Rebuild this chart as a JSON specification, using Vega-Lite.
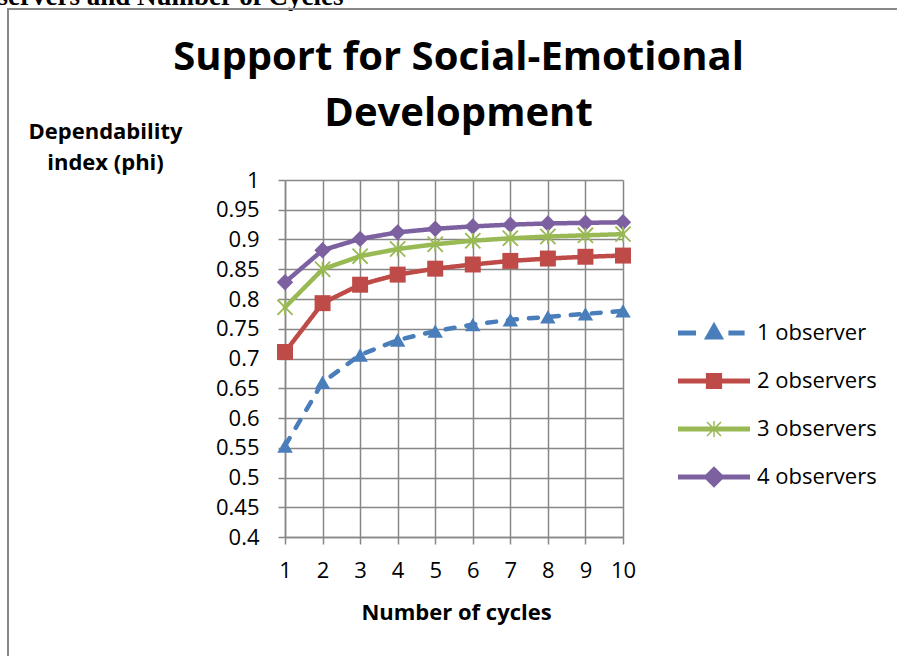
{
  "$schema": "https://vega.github.io/schema/vega-lite/v6.json",
  "autosize": {"type": "none"},
  "width": 338,
  "height": 357,
  "padding": {"left": 285, "top": 180, "right": 274, "bottom": 119},
  "background": "white",
  "config": {
    "view": {"stroke": null},
    "axis": {"labelFont": "Open Sans", "labelFontSize": 22, "labelColor": "black", "labelOverlap": false, "labelFlush": false, "titleFont": "Open Sans", "titleColor": "black", "gridColor": "#878787", "gridWidth": 1.5, "gridOpacity": 1, "domainColor": "#878787", "domainWidth": 1.5, "tickColor": "#878787", "tickWidth": 1.5, "tickSize": 7}
  },
  "data": {"values": [
    {"cycles": 1, "series": "1 observer", "phi": 0.553},
    {"cycles": 2, "series": "1 observer", "phi": 0.660},
    {"cycles": 3, "series": "1 observer", "phi": 0.706},
    {"cycles": 4, "series": "1 observer", "phi": 0.731},
    {"cycles": 5, "series": "1 observer", "phi": 0.746},
    {"cycles": 6, "series": "1 observer", "phi": 0.757},
    {"cycles": 7, "series": "1 observer", "phi": 0.765},
    {"cycles": 8, "series": "1 observer", "phi": 0.770},
    {"cycles": 9, "series": "1 observer", "phi": 0.775},
    {"cycles": 10, "series": "1 observer", "phi": 0.780},
    {"cycles": 1, "series": "2 observers", "phi": 0.711},
    {"cycles": 2, "series": "2 observers", "phi": 0.793},
    {"cycles": 3, "series": "2 observers", "phi": 0.824},
    {"cycles": 4, "series": "2 observers", "phi": 0.841},
    {"cycles": 5, "series": "2 observers", "phi": 0.851},
    {"cycles": 6, "series": "2 observers", "phi": 0.858},
    {"cycles": 7, "series": "2 observers", "phi": 0.864},
    {"cycles": 8, "series": "2 observers", "phi": 0.868},
    {"cycles": 9, "series": "2 observers", "phi": 0.871},
    {"cycles": 10, "series": "2 observers", "phi": 0.873},
    {"cycles": 1, "series": "3 observers", "phi": 0.786},
    {"cycles": 2, "series": "3 observers", "phi": 0.850},
    {"cycles": 3, "series": "3 observers", "phi": 0.872},
    {"cycles": 4, "series": "3 observers", "phi": 0.884},
    {"cycles": 5, "series": "3 observers", "phi": 0.892},
    {"cycles": 6, "series": "3 observers", "phi": 0.898},
    {"cycles": 7, "series": "3 observers", "phi": 0.902},
    {"cycles": 8, "series": "3 observers", "phi": 0.905},
    {"cycles": 9, "series": "3 observers", "phi": 0.907},
    {"cycles": 10, "series": "3 observers", "phi": 0.909},
    {"cycles": 1, "series": "4 observers", "phi": 0.828},
    {"cycles": 2, "series": "4 observers", "phi": 0.882},
    {"cycles": 3, "series": "4 observers", "phi": 0.901},
    {"cycles": 4, "series": "4 observers", "phi": 0.912},
    {"cycles": 5, "series": "4 observers", "phi": 0.918},
    {"cycles": 6, "series": "4 observers", "phi": 0.922},
    {"cycles": 7, "series": "4 observers", "phi": 0.925},
    {"cycles": 8, "series": "4 observers", "phi": 0.927},
    {"cycles": 9, "series": "4 observers", "phi": 0.928},
    {"cycles": 10, "series": "4 observers", "phi": 0.929}
  ]},
  "encoding": {
    "y": {"field": "phi", "type": "quantitative", "scale": {"domain": [0.4, 1], "nice": false, "zero": false},
      "axis": {"values": [0.4, 0.45, 0.5, 0.55, 0.6, 0.65, 0.7, 0.75, 0.8, 0.85, 0.9, 0.95, 1], "labelExpr": "format(datum.value, '.2~f')", "grid": true, "labelOverlap": false, "labelPadding": 19, "title": ["Dependability", "index (phi)"], "titleFontSize": 22, "titleFontWeight": "bold", "titleAngle": 0, "titleX": -180, "titleY": -42, "titleAlign": "center", "titleAnchor": null, "titleBaseline": "alphabetic", "titleLineHeight": 31}}
  },
  "resolve": {"axis": {"x": "independent"}},
  "layer": [
    {
      "mark": {"type": "line", "strokeCap": "round", "strokeJoin": "round"},
      "encoding": {
        "x": {"field": "cycles", "type": "quantitative", "scale": {"domain": [1, 10], "nice": false, "zero": false},
          "axis": {"orient": "bottom", "values": [1, 2, 3, 4, 5, 6, 7, 8, 9, 10], "grid": true, "labelOverlap": false, "labelPadding": 16, "title": "Number of cycles", "titleFontSize": 22, "titleFontWeight": "bold", "titleX": 171, "titleY": 82, "titleAlign": "center", "titleAnchor": null, "titleBaseline": "alphabetic"}},
        "color": {"field": "series", "type": "nominal",
          "scale": {"domain": ["1 observer", "2 observers", "3 observers", "4 observers"], "range": ["#4A7EBB", "#BE4B48", "#98B954", "#7D60A0"]},
          "legend": {"orient": "none", "legendX": 411, "legendY": 135, "title": null, "padding": 0, "symbolSize": 1296, "labelOffset": 25, "rowPadding": 19, "labelFont": "Open Sans", "labelFontSize": 22, "labelColor": "black", "labelLimit": 300,
            "encode": {"symbols": {"update": {
              "shape": {"signal": "datum.value === '1 observer' ? 'M-2,-0.14H-1V0.14H-2Z M0.8,-0.14H1.7V0.14H0.8Z M0,-0.62L0.56,0.36H-0.56Z' : datum.value === '2 observers' ? 'M-2,-0.14H2V0.14H-2Z M-0.45,-0.45H0.45V0.45H-0.45Z' : datum.value === '3 observers' ? 'M-2,-0.14H2V0.14H-2Z M-0.42,-0.36L-0.36,-0.42L0.42,0.36L0.36,0.42Z M0.36,-0.42L0.42,-0.36L-0.36,0.42L-0.42,0.36Z M-0.04,-0.45H0.04V0.45H-0.04Z' : 'M-2,-0.14H2V0.14H-2Z M0,-0.6L0.6,0L0,0.6L-0.6,0Z'"},
              "fill": {"signal": "scale('color', datum.value)"},
              "fillOpacity": {"value": 1},
              "opacity": {"value": 1},
              "stroke": {"value": "transparent"},
              "strokeWidth": {"value": 0},
              "strokeDash": {"value": []},
              "size": {"value": 1296}
            }}}}},
        "strokeDash": {"field": "series", "type": "nominal", "scale": {"domain": ["1 observer", "2 observers", "3 observers", "4 observers"], "range": [[9, 12], [1, 0], [1, 0], [1, 0]]}, "legend": null},
        "strokeWidth": {"datum": "frame", "type": "ordinal", "scale": {"range": [4.5, 4.5]},
          "legend": {"orient": "none", "legendX": -277, "legendY": -171, "title": null, "padding": 1000, "strokeColor": "#888888", "labelExpr": "''", "labelOpacity": 0, "symbolOpacity": 0,
            "encode": {"legend": {"update": {"strokeWidth": {"value": 2}}}}}}
      }
    },
    {
      "transform": [{"filter": "datum.series !== '3 observers'"}],
      "mark": {"type": "point", "filled": true, "opacity": 1},
      "encoding": {
        "x": {"field": "cycles", "type": "quantitative",
          "axis": {"orient": "top", "labels": false, "ticks": false, "domain": false, "grid": false, "title": "servers and Number of Cycles", "titleFont": "Liberation Serif", "titleFontSize": 27, "titleFontWeight": "bold", "titleX": -288, "titleY": -176, "titleAlign": "left", "titleAnchor": null, "titleBaseline": "alphabetic", "titleAngle": 0}},
        "color": {"field": "series", "type": "nominal"},
        "shape": {"field": "series", "type": "nominal", "scale": {"domain": ["1 observer", "2 observers", "4 observers"], "range": ["triangle-up", "square", "diamond"]}, "legend": null},
        "size": {"field": "series", "type": "nominal", "scale": {"domain": ["1 observer", "2 observers", "4 observers"], "range": [240, 270, 330]}, "legend": null}
      }
    },
    {
      "transform": [{"filter": "datum.series === '3 observers'"}],
      "mark": {"type": "point", "shape": "M-1,-1L1,1M-1,1L1,-1M0,-1L0,1", "filled": false, "size": 230, "strokeWidth": 1.8, "opacity": 1},
      "encoding": {
        "x": {"field": "cycles", "type": "quantitative",
          "axis": {"orient": "top", "labels": false, "ticks": false, "domain": false, "grid": false, "title": ["Support for Social-Emotional", "Development"], "titleFontSize": 40, "titleFontWeight": "bold", "titleX": 173, "titleY": -111, "titleAlign": "center", "titleAnchor": null, "titleBaseline": "alphabetic", "titleAngle": 0, "titleLineHeight": 56}},
        "color": {"field": "series", "type": "nominal"}
      }
    }
  ]
}
